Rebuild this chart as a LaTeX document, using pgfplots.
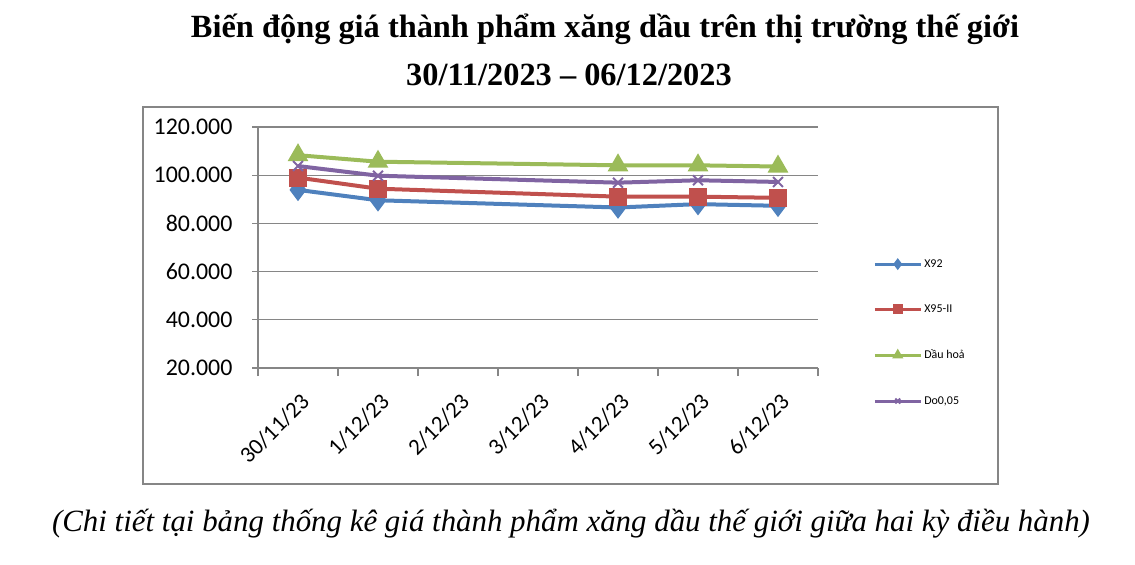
\documentclass[border=0pt]{standalone}
\usepackage{pgfplots}
\pgfplotsset{compat=1.18}
\usepackage{fontspec}
\setmainfont{Liberation Serif}
\newfontfamily\carlito{Carlito}
\definecolor{xblue}{RGB}{79,129,189}
\definecolor{xred}{RGB}{192,80,77}
\definecolor{xgreen}{RGB}{155,187,89}
\definecolor{xpurple}{RGB}{128,100,162}
\definecolor{axgray}{RGB}{134,134,134}
\begin{document}
\begin{tikzpicture}
\path[use as bounding box] (0bp,0bp) rectangle (1135bp,-565bp);
\draw[axgray, line width=1.2bp] (143bp,-107bp) rectangle (998bp,-484bp);
\node[anchor=base, font=\bfseries\fontsize{32.5}{34}\selectfont] at (605bp,-37bp) {Biến động giá thành phẩm xăng dầu trên thị trường thế giới};
\node[anchor=base, font=\bfseries\fontsize{32.5}{34}\selectfont] at (569bp,-85bp) {30/11/2023 – 06/12/2023};
\node[anchor=base, font=\itshape\fontsize{31}{33}\selectfont] at (571bp,-531bp) {(Chi tiết tại bảng thống kê giá thành phẩm xăng dầu thế giới giữa hai kỳ điều hành)};
\begin{axis}[
  at={(258bp,-368bp)}, anchor=south west,
  scale only axis, width=560bp, height=241bp,
  xmin=-0.5, xmax=6.5, ymin=20, ymax=120,
  axis x line=bottom, axis y line=left,
  axis line style={draw=axgray, line width=1.2bp, -},
  tick align=outside,
  ytick={20,40,60,80,100,120},
  yticklabels={20.000,40.000,60.000,80.000,100.000,120.000},
  ymajorgrids, grid style={draw=axgray, line width=1.2bp},
  major tick length=6bp,
  y tick style={draw=axgray, line width=1.2bp},
  xtick={0,1,2,3,4,5,6},
  xticklabels={30/11/23,1/12/23,2/12/23,3/12/23,4/12/23,5/12/23,6/12/23},
  x tick style={draw=none},
  minor xtick={-0.5,0.5,1.5,2.5,3.5,4.5,5.5,6.5},
  minor x tick style={draw=axgray, line width=1.2bp},
  minor tick length=8bp,
  yticklabel style={font=\carlito\fontsize{24}{26}\selectfont, xshift=-16bp},
  xticklabel style={font=\carlito\fontsize{23}{25}\selectfont, rotate=45, anchor=north east, xshift=-8bp, yshift=-10bp},
  legend style={at={(1.093,0.147)}, anchor=west, draw=none, fill=none,
    font=\carlito\fontsize{12}{13}\selectfont, row sep=32bp, cells={anchor=west}},
  legend image code/.code={\draw[line width=3bp, mark size=3.5bp, mark repeat=2, mark phase=2] plot coordinates {(0bp,0bp) (23bp,0bp) (46bp,0bp)};},
]
\addplot[color=xblue, line width=4bp, mark=diamond*, mark size=8bp, mark options={solid}]
  coordinates {(0,93.9) (1,89.6) (4,86.6) (5,88.0) (6,87.3)};
\addlegendentry{X92}
\addplot[color=xred, line width=4bp, mark=square*, mark size=7bp, mark options={solid}]
  coordinates {(0,99.0) (1,94.4) (4,91.1) (5,91.1) (6,90.6)};
\addlegendentry{X95-II}
\addplot[color=xgreen, line width=4bp, mark=triangle*, mark size=8bp, mark options={solid}]
  coordinates {(0,108.3) (1,105.6) (4,104.1) (5,104.1) (6,103.6)};
\addlegendentry{Dầu hoả}
\addplot[color=xpurple, line width=4bp, mark=x, mark size=7bp, mark options={solid, line width=2bp}]
  coordinates {(0,103.8) (1,99.8) (4,96.9) (5,97.9) (6,97.2)};
\addlegendentry{Do0,05}
\end{axis}
\end{tikzpicture}
\end{document}
